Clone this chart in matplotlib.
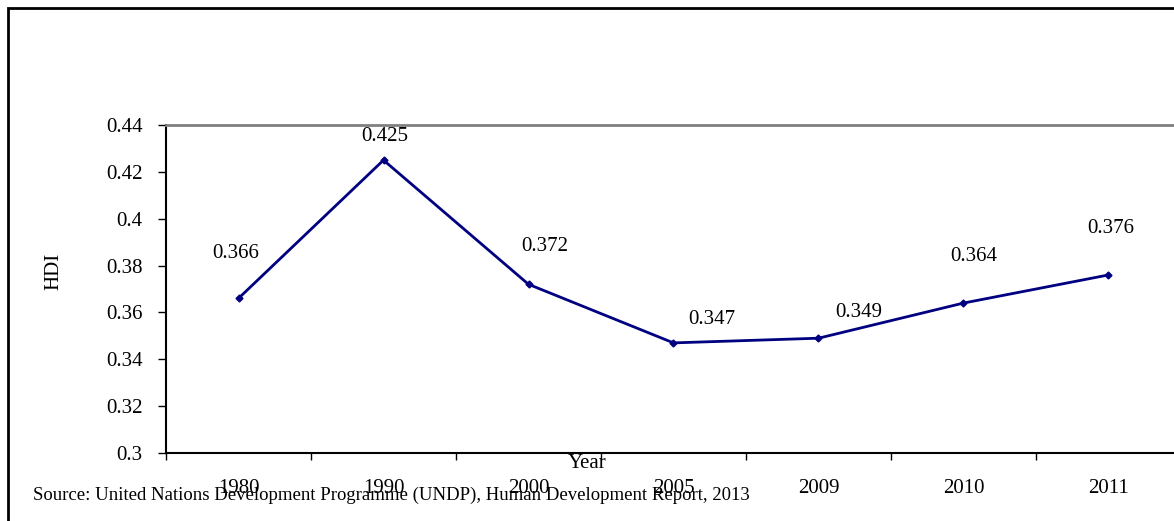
import matplotlib.pyplot as plt
from matplotlib.patches import Rectangle

years = ['1980', '1990', '2000', '2005', '2009', '2010', '2011']
hdi = [0.366, 0.425, 0.372, 0.347, 0.349, 0.364, 0.376]
# label offsets in pixels (dx, dy) from each point
label_off = [(-3, 45), (1, 24), (16, 38), (38, 23), (40, 26), (10, 47), (2, 46)]

plt.rcParams['font.family'] = 'Liberation Serif'
fig = plt.figure(figsize=(11.74, 5.21), dpi=100)
ax = fig.add_axes([166/1174, 1-453/521, 1015/1174, 328/521])

x = list(range(len(years)))
ax.plot(x, hdi, color='#000080', lw=2, marker='D', ms=3.5, mfc='#000080', mec='#000080')
for xi, v, (dx, dy) in zip(x, hdi, label_off):
    ax.annotate(str(v), (xi, v), xytext=(dx, dy), textcoords='offset pixels',
                ha='center', va='center', fontsize=15)

ax.set_xlim(-0.5, len(years) - 0.5)
ax.set_ylim(0.3, 0.44)
ax.set_yticks([0.3, 0.32, 0.34, 0.36, 0.38, 0.4, 0.42, 0.44])
ax.set_yticklabels(['0.3', '0.32', '0.34', '0.36', '0.38', '0.4', '0.42', '0.44'], fontsize=15)
ax.set_xticks(x)
ax.set_xticklabels(years, fontsize=15)
ax.set_xticks([i - 0.5 for i in range(len(years) + 1)], minor=True)
ax.tick_params(axis='x', which='major', length=0, pad=18.5)
ax.tick_params(axis='x', which='minor', length=5, width=1)
ax.tick_params(axis='y', length=6, width=1, pad=11)

ax.spines['top'].set_color('#808080')
ax.spines['top'].set_linewidth(2)
ax.spines['left'].set_linewidth(1.5)
ax.spines['bottom'].set_linewidth(1.5)
ax.spines['right'].set_visible(False)

fig.text(54/1174, 1-271/521, 'HDI', rotation=90, ha='center', va='center', fontsize=15)
fig.text(587/1174, 1-463/521, 'Year', ha='center', va='center', fontsize=15)
fig.text(33/1174, 1-495/521, 'Source: United Nations Development Programme (UNDP), Human Development Report, 2013',
         ha='left', va='center', fontsize=13.5)

# outer chart border
fig.patches.append(Rectangle((8/1174, -0.1), 1.2, 1.1 - 8/521, transform=fig.transFigure,
                             fill=False, edgecolor='black', lw=2))

fig.savefig('out.png', dpi=100)
